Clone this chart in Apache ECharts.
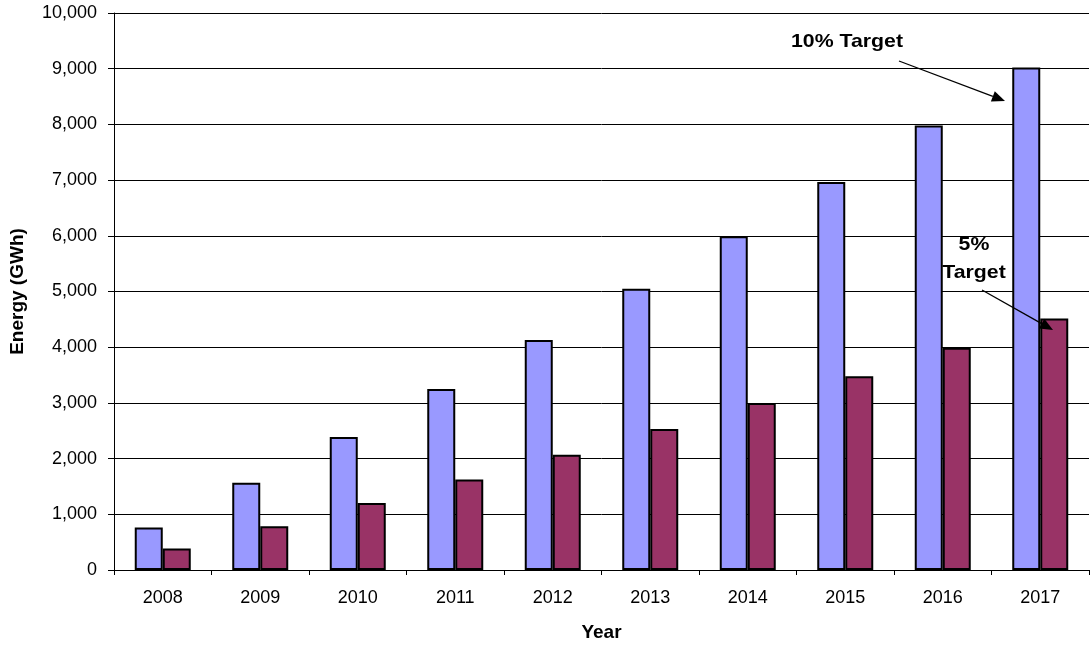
<!DOCTYPE html>
<html>
<head>
<meta charset="utf-8">
<script src="https://cdn.jsdelivr.net/npm/echarts@6/dist/echarts.min.js"></script>
<style>
html,body{margin:0;padding:0;background:#fff;overflow:hidden;}
#chart{width:1090px;height:647px;}
</style>
</head>
<body>
<div id="chart"></div>
<script>
const years = ['2008','2009','2010','2011','2012','2013','2014','2015','2016','2017'];
const target10 = [765, 1565, 2390, 3250, 4130, 5050, 5990, 6965, 7980, 9020];
const target5 = [385, 785, 1205, 1625, 2070, 2530, 3000, 3480, 3990, 4515];
const yTicks = [0,1000,2000,3000,4000,5000,6000,7000,8000,9000,10000];

const FONT = '"Liberation Sans", Arial, sans-serif';
const chart = echarts.init(document.getElementById('chart'), null, {renderer:'canvas'});

function arrow(x1,y1,x2,y2){
  const ang = Math.atan2(y2-y1, x2-x1);
  const L = 13, W = 5.5;
  const bx = x2 - L*Math.cos(ang), by = y2 - L*Math.sin(ang);
  const px = -Math.sin(ang)*W, py = Math.cos(ang)*W;
  return [
    {type:'line', shape:{x1:x1,y1:y1,x2:bx,y2:by}, style:{stroke:'#000', lineWidth:1.3}, z:100},
    {type:'polygon', shape:{points:[[x2,y2],[bx+px,by+py],[bx-px,by-py]]}, style:{fill:'#000'}, z:100}
  ];
}
function label(text, x, y){
  return {type:'text', x:x, y:y, scaleX:1.12, originX:0, originY:0,
    style:{text:text, font:'bold 19px '+FONT, fill:'#000', align:'center', verticalAlign:'middle'}, z:100};
}

chart.setOption({
  animation:false,
  backgroundColor:'#fff',
  grid:{left:112, right:1, top:13, bottom:72, containLabel:false},
  xAxis:{
    type:'category',
    data:years,
    name:'Year',
    nameLocation:'middle',
    nameGap:53,
    nameTextStyle:{fontFamily:FONT, fontWeight:'bold', fontSize:19, color:'#000'},
    axisLine:{show:true, lineStyle:{color:'#000', width:1}},
    axisTick:{show:true, length:5, lineStyle:{color:'#000'}},
    axisLabel:{fontFamily:FONT, fontSize:18, color:'#000', margin:19},
    splitLine:{show:false}
  },
  yAxis:{
    type:'value',
    min:0, max:10000, interval:1000,
    name:'Energy (GWh)',
    nameLocation:'middle',
    nameGap:87,
    nameTextStyle:{fontFamily:FONT, fontWeight:'bold', fontSize:19, color:'#000'},
    axisLine:{show:true, lineStyle:{color:'#000', width:1}},
    axisTick:{show:true, length:6, lineStyle:{color:'#000'}},
    axisLabel:{fontFamily:FONT, fontSize:18, color:'#000', margin:17,
      formatter:function(v){ return yTicks.indexOf(v)>=0 ? v.toLocaleString('en-US') : ''; }},
    splitLine:{show:true, lineStyle:{color:'#000', width:1}}
  },
  series:[
    {type:'bar', name:'10% Target', data:target10, barWidth:28, barGap:'0%',
     itemStyle:{color:'#9999FF', borderColor:'#000', borderWidth:2}},
    {type:'bar', name:'5% Target', data:target5, barWidth:28, barGap:'0%',
     itemStyle:{color:'#993366', borderColor:'#000', borderWidth:2}}
  ],
  graphic:[
    label('10% Target', 847, 42),
    label('5%', 974, 245),
    label('Target', 974, 273)
  ].concat(arrow(899,61,1005,101)).concat(arrow(982,290,1053,330))
});
</script>
</body>
</html>
